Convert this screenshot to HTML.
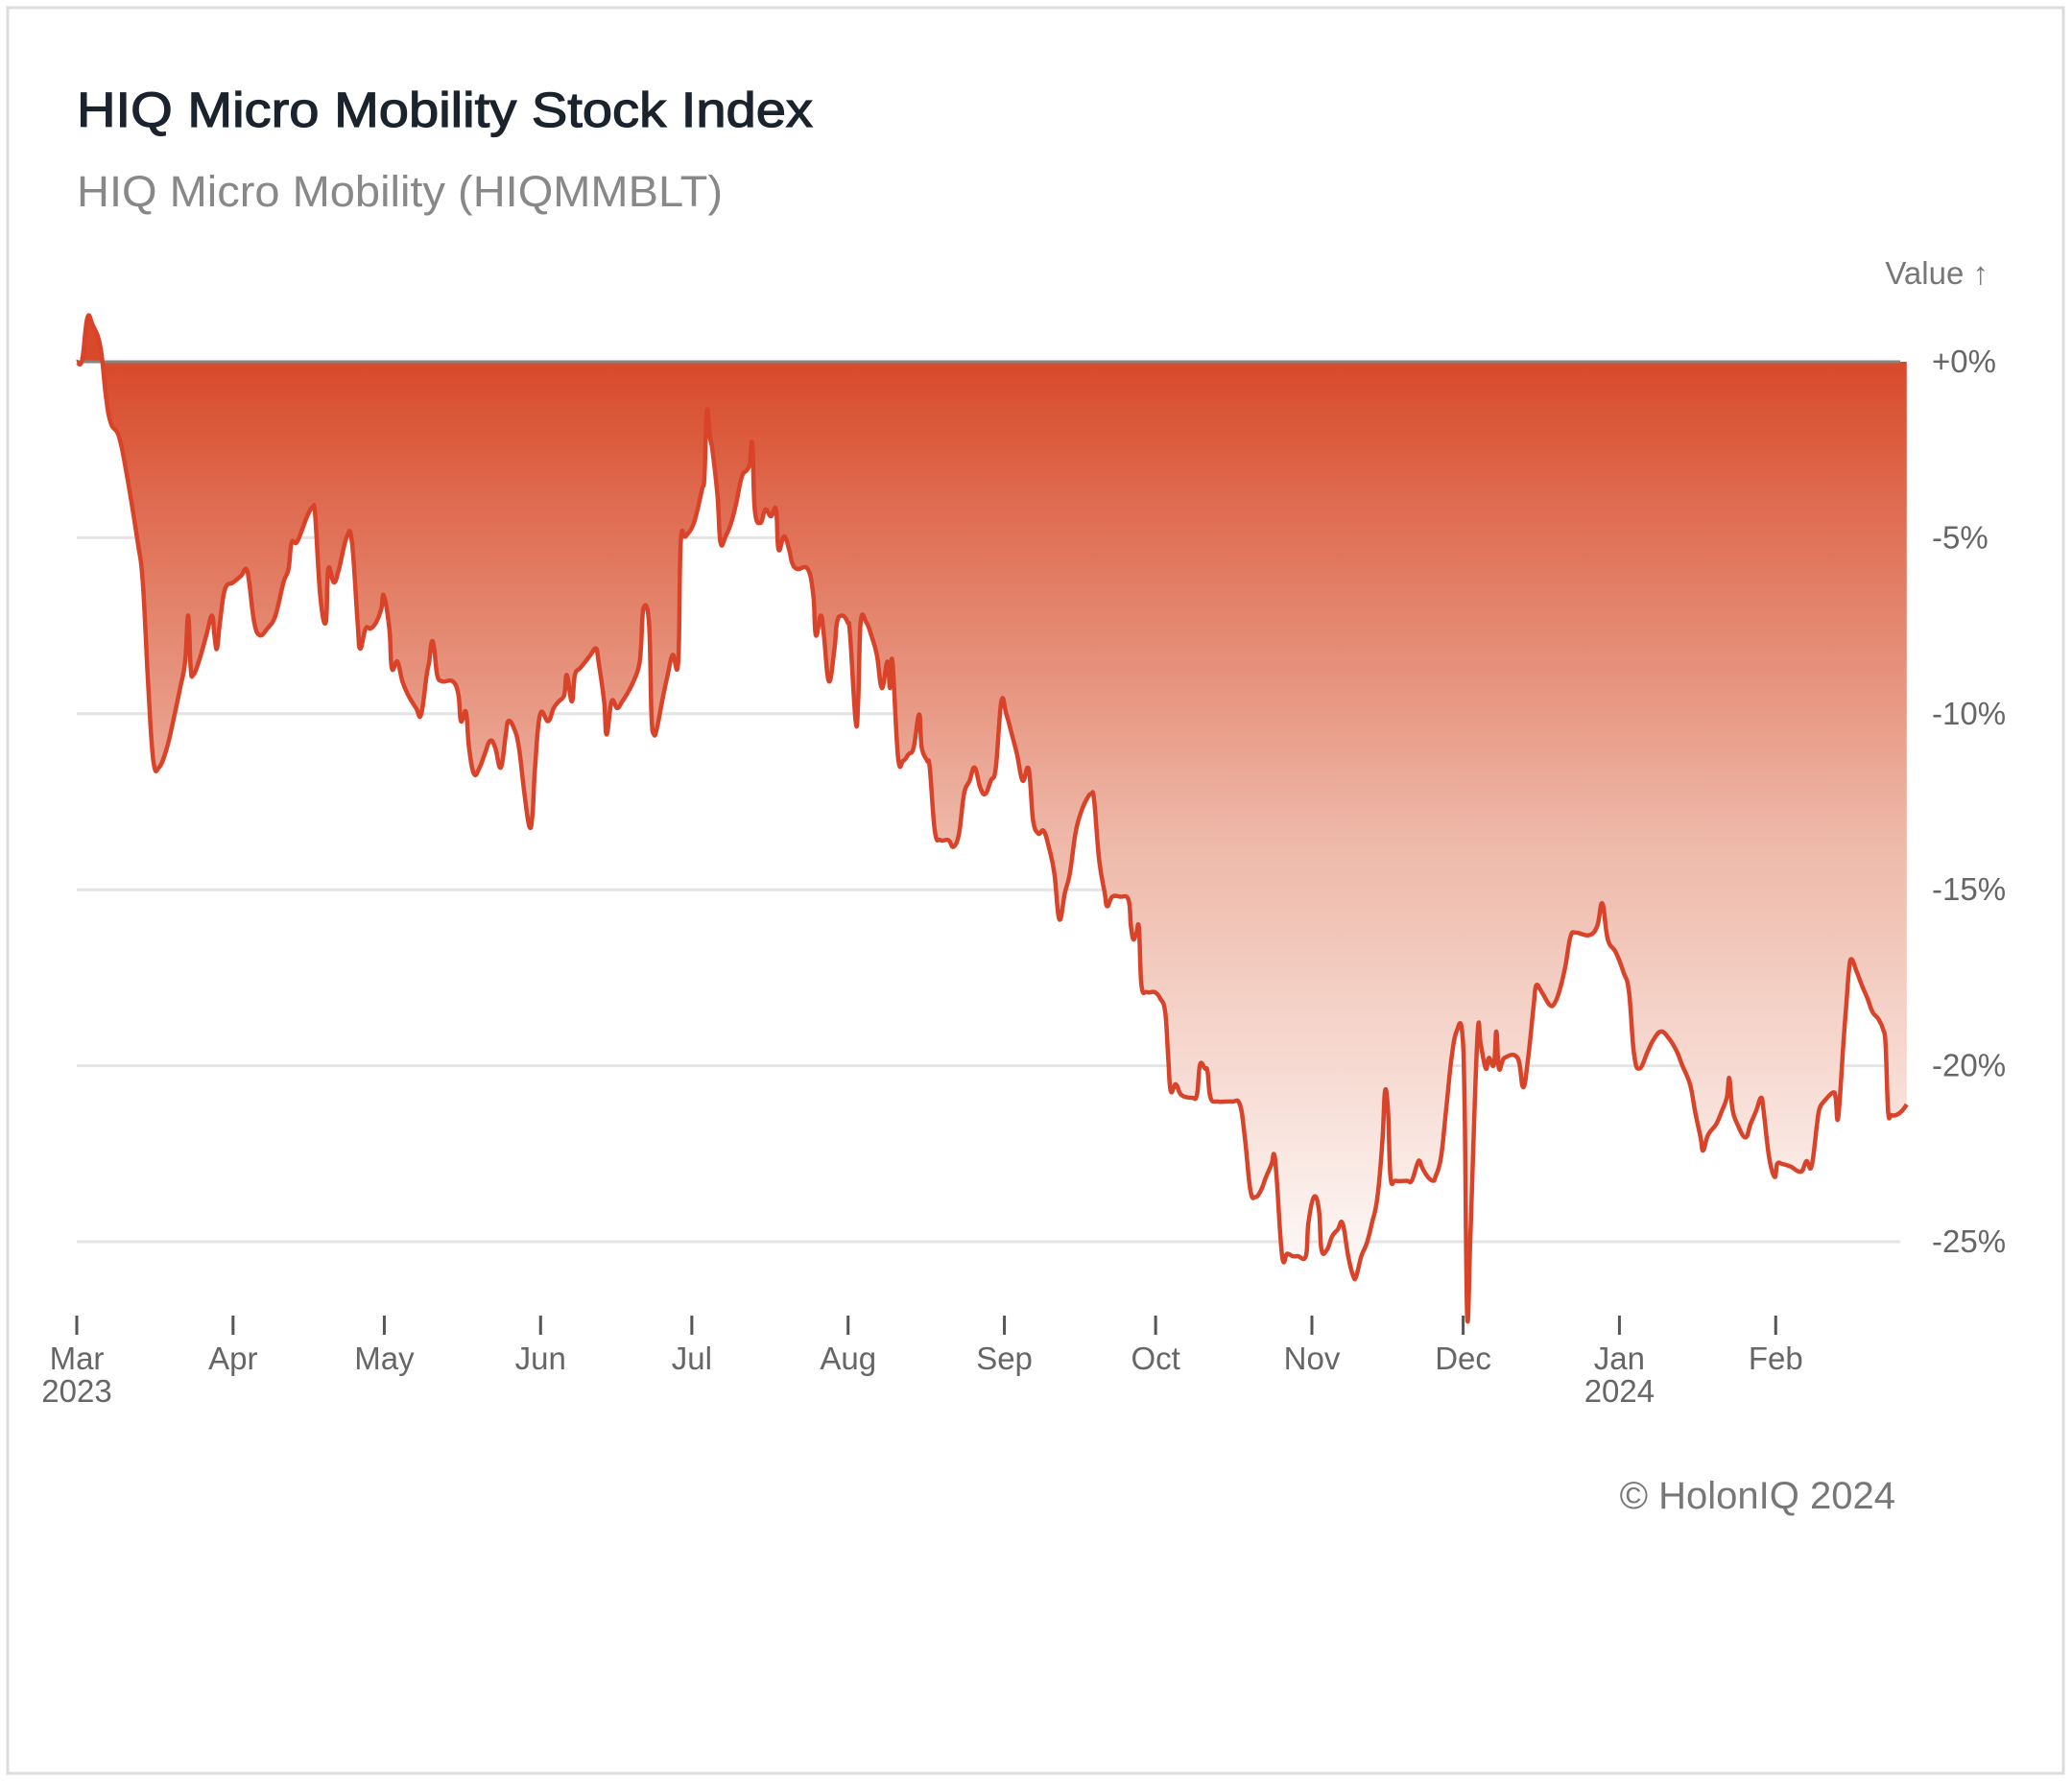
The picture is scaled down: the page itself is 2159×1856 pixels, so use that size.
<!DOCTYPE html>
<html><head><meta charset="utf-8"><style>
html,body{margin:0;padding:0;background:#fff;}
svg{display:block;font-family:"Liberation Sans",sans-serif;}
</style></head><body>
<svg id="chart" width="2159" height="1856" viewBox="0 0 2159 1856">
<defs><linearGradient id="fillGrad" x1="0" y1="377" x2="0" y2="1370" gradientUnits="userSpaceOnUse">
<stop offset="0" stop-color="#d84a2a"/><stop offset="0.5" stop-color="#eeb8a8"/><stop offset="1" stop-color="#ffffff"/></linearGradient></defs>
<rect x="8" y="8" width="2142" height="1840" fill="#fff" stroke="#dcdcdc" stroke-width="3"/>
<text x="80" y="132" font-size="51" font-weight="normal" fill="#1b232d" stroke="#1b232d" stroke-width="1.2" textLength="767" lengthAdjust="spacingAndGlyphs">HIQ Micro Mobility Stock Index</text>
<text x="80" y="215" font-size="45" fill="#888" textLength="673" lengthAdjust="spacingAndGlyphs">HIQ Micro Mobility (HIQMMBLT)</text>
<text x="2072" y="296" font-size="33" fill="#777" text-anchor="end">Value ↑</text>
<g id="grid"></g>
<path id="area" fill="url(#fillGrad)"/>
<line id="zero" stroke="#858585" stroke-width="3"/>
<path id="line" fill="none" stroke="#d9432a" stroke-width="4.5" stroke-linejoin="round"/>
<g id="axes"></g>
<text x="1975" y="1572" font-size="40" fill="#777" text-anchor="end">© HolonIQ 2024</text>
</svg>
<script>
const days=[0,1.05,2.1,3.15,4.7,5.8,6.8,8.4,10,12.1,13.1,14.2,15.2,16.3,17.9,19.4,20.5,21.5,22.1,22.6,23.1,24.2,25.7,26.8,27.3,27.8,28.4,29.4,31,32.6,33.6,34.2,35.2,36.3,37.8,39.4,41,42,42.6,43.6,44.7,45.7,46.8,47.3,48.3,49.4,49.9,51,52,53.6,54.6,55.7,56.2,57.3,58.3,59.4,60.4,60.9,62,62.5,63.6,64.6,65.7,67.3,68.3,69.4,69.9,70.4,70.9,71.5,72.5,74.6,75.7,76.2,77.2,77.8,78.8,79.9,80.9,82,83,84.1,85.1,85.6,86.7,87.7,88.8,89.8,90.4,90.9,91.9,93.5,94.6,95.6,96.7,97.2,98.2,98.8,99.8,100.9,101.9,103,103.5,104.6,105.1,106.1,107.2,108.2,109.8,111.4,111.9,112.4,113.5,114,114.5,115.1,116.1,117.2,118.2,119.3,119.8,120.8,122.4,124,124.5,125,125.6,126.1,127.1,127.7,128.7,129.8,130.8,131.9,132.9,133.5,134,134.5,135.6,136.6,137.7,138.7,139.2,140.3,141.3,141.9,142.9,145,146.1,146.6,147.6,148.2,149.2,150.3,150.8,151.8,152.9,153.4,154.5,155,155.5,156.6,157.6,158.7,159.7,160.8,161.3,161.8,162.9,163.9,165,166,167.1,167.6,168.7,169.2,170.2,171.3,172.9,173.9,175,176,177.1,178.1,179.2,180.2,181.3,182.3,183.4,184.4,185.5,186.5,187.6,188.6,189.1,189.7,190.7,191.8,192.8,193.9,194.9,196,197,198.1,199.1,200.2,201.2,201.8,202.8,203.9,204.4,205.4,207,208.6,209.1,209.6,210.2,210.7,211.2,212.3,213.8,214.9,215.9,216.5,217,218,219.1,221.2,222.2,222.8,223.8,224.3,224.9,226.4,229.1,230.7,231.7,232.8,233.8,234.9,235.9,237,237.5,238,239.1,240.1,241.2,242.2,243.8,244.3,245.4,246.4,246.9,248,249,250.1,251.1,252.2,253.2,253.8,254.8,255.9,256.9,258,259,259.5,260.1,260.6,261.6,263.8,264.8,265.9,266.4,266.9,268,269,269.5,270.6,271.6,272.7,273.7,274.8,275.3,275.8,276.4,276.9,277.9,278.5,279.5,280.1,281.1,281.6,282.1,283.2,285.8,286.9,287.9,289,289.5,290.6,292.2,293.2,294.2,295.3,296.3,297.4,300,301.6,302.6,303.7,305.3,306.8,307.9,308.9,310,311.6,312.6,314.2,315.8,317.4,318.4,320,321,322.1,322.6,323.6,325.2,326.3,327.3,327.8,328.4,329.4,331,332,333.1,334.1,334.6,335.7,336.8,337.3,338.3,339.9,342,343.1,344.1,345.2,345.7,346.8,348.4,348.9,349.4,350.4,351,351.5,352,353.1,354.1,355.2,356.2,357.3,358.3,358.8,359.3,359.9,360.9,362,363];
const values=[0,0.04,1.24,1.05,0.41,-1.01,-1.76,-2.14,-3.27,-5.14,-6.27,-9.27,-11.34,-11.53,-10.96,-10.02,-9.27,-8.52,-7.21,-8.71,-8.9,-8.52,-7.77,-7.21,-7.77,-8.15,-7.4,-6.46,-6.27,-6.08,-5.89,-6.27,-7.4,-7.77,-7.58,-7.21,-6.27,-5.89,-5.14,-5.14,-4.77,-4.39,-4.13,-4.39,-6.64,-7.4,-5.89,-6.27,-5.89,-4.96,-5.14,-7.4,-8.15,-7.58,-7.58,-7.4,-7.02,-6.64,-7.58,-8.71,-8.52,-9.08,-9.46,-9.84,-10.02,-8.9,-8.52,-7.96,-8.15,-8.9,-9.08,-9.08,-9.46,-10.21,-9.95,-10.96,-11.71,-11.53,-11.15,-10.77,-10.96,-11.53,-10.59,-10.21,-10.4,-10.96,-12.28,-13.21,-12.84,-11.53,-10.02,-10.21,-9.84,-9.65,-9.46,-8.9,-9.65,-8.9,-8.71,-8.52,-8.33,-8.15,-8.52,-9.65,-10.59,-9.65,-9.84,-9.65,-9.27,-8.71,-8.15,-7.02,-7.4,-10.02,-10.59,-10.4,-9.65,-8.9,-8.33,-8.52,-5.14,-4.96,-4.58,-3.64,-3.27,-1.39,-2.14,-2.52,-3.83,-5.14,-4.96,-4.58,-4.02,-3.27,-3.08,-2.89,-2.33,-4.2,-4.58,-4.2,-4.39,-4.2,-5.33,-4.96,-5.33,-5.71,-5.89,-5.89,-6.64,-7.77,-7.21,-7.77,-9.08,-8.15,-7.4,-7.21,-7.4,-7.77,-10.21,-9.65,-7.4,-7.4,-7.77,-8.33,-9.27,-8.52,-9.27,-8.52,-11.22,-11.34,-11.15,-10.96,-10.02,-10.96,-11.34,-11.53,-13.33,-13.59,-13.59,-13.78,-13.4,-12.28,-11.9,-11.53,-12.09,-12.28,-11.9,-11.53,-9.65,-10.02,-10.59,-11.15,-11.9,-11.53,-11.9,-13.03,-13.4,-13.33,-13.78,-14.53,-15.84,-15.09,-14.53,-13.4,-12.84,-12.46,-12.28,-12.46,-14.15,-15.09,-15.47,-15.2,-15.2,-15.28,-16.03,-16.41,-16.22,-16.1,-17.72,-17.91,-17.91,-18.09,-18.47,-19.78,-20.72,-20.53,-20.83,-20.91,-20.83,-19.97,-20.08,-20.16,-20.91,-21.02,-21.02,-21.1,-22.04,-23.54,-23.73,-23.54,-23.16,-22.79,-22.52,-23.16,-25.41,-25.34,-25.41,-25.41,-25.41,-24.48,-23.73,-24.1,-25.23,-25.23,-24.85,-24.66,-24.48,-25.41,-25.98,-25.98,-25.41,-25.04,-24.48,-23.73,-22.11,-20.72,-21.29,-23.16,-23.27,-23.27,-23.27,-22.79,-22.71,-22.9,-23.16,-23.27,-23.16,-22.6,-21.29,-19.78,-19.03,-19.03,-21.29,-27.1,-25.04,-22.79,-19.03,-19.41,-20.08,-19.78,-19.97,-19.03,-20.08,-19.78,-19.78,-20.61,-19.78,-18.28,-17.72,-17.91,-18.28,-18.21,-17.83,-17.16,-16.33,-16.22,-16.29,-16.03,-15.39,-16.41,-16.78,-17.34,-17.91,-19.67,-20.08,-19.6,-19.3,-19.03,-19.22,-19.6,-19.97,-20.53,-21.29,-22.04,-22.41,-21.96,-21.66,-21.29,-20.91,-20.35,-21.21,-21.66,-22.04,-21.66,-21.29,-20.91,-21.29,-22.6,-23.16,-22.79,-22.79,-22.86,-23.01,-22.71,-22.86,-21.66,-21.21,-20.98,-20.76,-20.91,-21.47,-19.41,-18.28,-17.34,-16.97,-17.34,-17.72,-18.09,-18.47,-18.66,-18.96,-19.41,-21.29,-21.4,-21.4,-21.29,-21.1];
const yTicks=[0,-5,-10,-15,-20,-25];
const yTickLabels=["+0%","-5%","-10%","-15%","-20%","-25%"];
const monthDays=[0,31,61,92,122,153,184,214,245,275,306,337];
const monthLabels=["Mar","Apr","May","Jun","Jul","Aug","Sep","Oct","Nov","Dec","Jan","Feb"];
const yearLabels={0:"2023",306:"2024"};

const NS="http://www.w3.org/2000/svg";
const X0=80,X1=1980,PX_PER_DAY=5.253,Y0=377,PX_PER_PCT=36.68;
const xs=d=>X0+d*PX_PER_DAY;
const ys=v=>Y0-v*PX_PER_PCT;
function mk(tag,attrs,parent){const e=document.createElementNS(NS,tag);for(const k in attrs)e.setAttribute(k,attrs[k]);parent.appendChild(e);return e;}

const grid=document.getElementById('grid'),axes=document.getElementById('axes');
yTicks.forEach((t,i)=>{
  if(t!==0){const g=mk('line',{x1:X0,x2:X1,y1:ys(t),y2:ys(t),stroke:'#e4e4e4','stroke-width':3},grid);
  
  }
  const lb=mk('text',{x:2013,y:ys(t)+11,'font-size':33,fill:'#666'},axes);
  lb.textContent=yTickLabels[i];
  
  
});
monthDays.forEach((d,i)=>{
  const x=xs(d);
  const tk=mk('line',{x1:x,x2:x,y1:1371,y2:1391,stroke:'#555','stroke-width':3},axes);
  
  
  const lb=mk('text',{x:x,y:1427,'font-size':33,fill:'#666','text-anchor':'middle'},axes);
  lb.textContent=monthLabels[i];
  
  
  if(yearLabels[d]){const yl=mk('text',{x:x,y:1461,'font-size':33,fill:'#666','text-anchor':'middle'},axes);
  yl.textContent=yearLabels[d];
  
  }
});
// smooth path (Catmull-Rom -> cubic bezier)
const pts=days.map((dy,i)=>[xs(dy),ys(values[i])]);
let d='M'+pts[0][0].toFixed(1)+' '+pts[0][1].toFixed(1);
for(let i=0;i<pts.length-1;i++){
  const p0=pts[Math.max(0,i-1)],p1=pts[i],p2=pts[i+1],p3=pts[Math.min(pts.length-1,i+2)];
  const t=0.2;
  const c1x=p1[0]+(p2[0]-p0[0])*t,c1y=p1[1]+(p2[1]-p0[1])*t;
  const c2x=p2[0]-(p3[0]-p1[0])*t,c2y=p2[1]-(p3[1]-p1[1])*t;
  d+='C'+c1x.toFixed(1)+' '+c1y.toFixed(1)+' '+c2x.toFixed(1)+' '+c2y.toFixed(1)+' '+p2[0].toFixed(1)+' '+p2[1].toFixed(1);
}
document.getElementById('line').setAttribute('d',d);
document.getElementById('area').setAttribute('d',d+'L'+xs(days[days.length-1]).toFixed(1)+' '+Y0+'L'+xs(days[0])+' '+Y0+'Z');
const z=document.getElementById('zero');
z.setAttribute('x1',X0);z.setAttribute('x2',X1);z.setAttribute('y1',Y0);z.setAttribute('y2',Y0);
</script>
</body></html>
